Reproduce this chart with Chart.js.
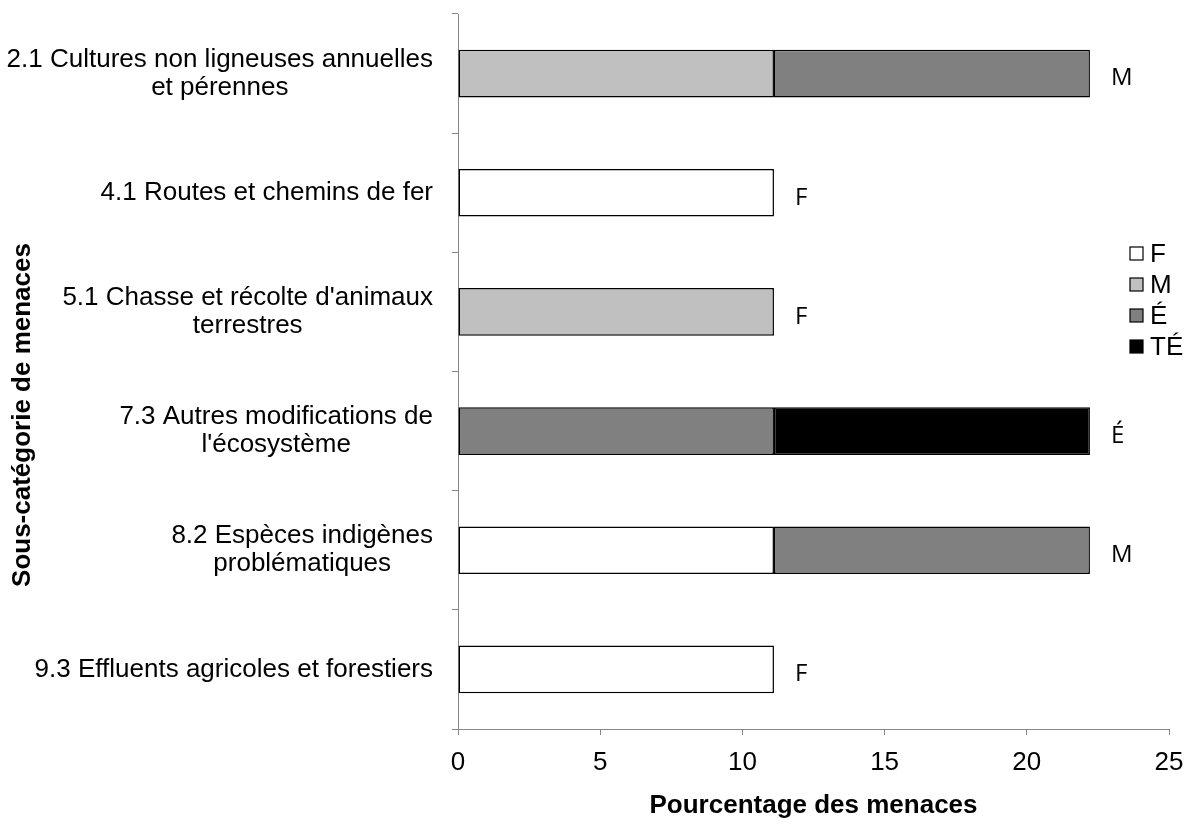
<!DOCTYPE html>
<html lang="fr">
<head>
<meta charset="utf-8">
<title>Sous-catégorie de menaces</title>
<script src="https://cdn.jsdelivr.net/npm/chart.js@4.4.1/dist/chart.umd.min.js"></script>
<style>
  html, body { margin:0; padding:0; background:#fff; }
  #wrap { width:1186px; height:826px; position:relative; }
</style>
</head>
<body>
<div id="wrap"><canvas id="chart"></canvas></div>
<script>
/* ====== données ====== */
const categories = [
  ['2.1 Cultures non ligneuses annuelles', 'et pérennes'],
  ['4.1 Routes et chemins de fer'],
  ["5.1 Chasse et récolte d'animaux", 'terrestres'],
  ['7.3 Autres modifications de', "l'écosystème"],
  ['8.2 Espèces indigènes', 'problématiques'],
  ['9.3 Effluents agricoles et forestiers']
];
const seriesNames = ['F', 'M', 'É', 'TÉ'];
const valuesF  = [null, 11.11, null, null, 11.11, 11.11];
const valuesM  = [11.11, null, 11.11, null, null, null];
const valuesE  = [11.11, null, null, 11.11, 11.11, null];
const valuesTE = [null, null, null, 11.11, null, null];
const overallImpact = ['M', 'F', 'F', 'É', 'M', 'F'];
const xMin = 0, xMax = 25, xStep = 5;
const yTitle = 'Sous-catégorie de menaces';
const xTitle = 'Pourcentage des menaces';

/* ====== styles ====== */
const FONT = '"Liberation Sans", Arial, sans-serif';
const AXIS_GREY = '#868686';
const fills = ['#ffffff', '#c0c0c0', '#808080', '#000000'];

/* libellés de catégories : bloc aligné à droite, lignes centrées */
const catLabels = {
  id: 'catLabels',
  afterDraw(chart) {
    const y = chart.scales.y, ctx = chart.ctx;
    ctx.save();
    ctx.font = '26px ' + FONT;
    ctx.fillStyle = '#000';
    ctx.textAlign = 'center';
    ctx.textBaseline = 'middle';
    const right = chart.chartArea.left - 25;
    const lh = 28;
    categories.forEach((lines, i) => {
      const cy = y.getPixelForValue(i);
      const w = Math.max(...lines.map(l => ctx.measureText(l).width));
      const cx = right - w / 2;
      lines.forEach((l, j) => ctx.fillText(l, cx, cy + (j - (lines.length - 1) / 2) * lh));
    });
    // titre vertical, centré sur la hauteur de la figure (comme Excel)
    ctx.font = 'bold 26px ' + FONT;
    ctx.translate(23, chart.height / 2 + 2);
    ctx.rotate(-Math.PI / 2);
    ctx.fillText(yTitle, 0, 0);
    ctx.restore();
  }
};

/* étiquette d'impact global au bout de chaque barre */
const endLabels = {
  id: 'endLabels',
  afterDatasetsDraw(chart) {
    const x = chart.scales.x, y = chart.scales.y, ctx = chart.ctx;
    ctx.save();
    ctx.font = '24px "Open Sans", sans-serif';
    ctx.fillStyle = '#000';
    ctx.textAlign = 'left';
    ctx.textBaseline = 'middle';
    overallImpact.forEach((txt, i) => {
      const total = chart.data.datasets.reduce((s, d) => s + (d.data[i] || 0), 0);
      ctx.fillText(txt, x.getPixelForValue(total) + 21, y.getPixelForValue(i) + 5);
    });
    ctx.restore();
  }
};

/* légende à droite, par-dessus la zone du graphique */
const sideLegend = {
  id: 'sideLegend',
  afterDraw(chart) {
    const ctx = chart.ctx;
    ctx.save();
    ctx.font = '26px ' + FONT;
    ctx.textBaseline = 'middle';
    ctx.textAlign = 'left';
    chart.data.datasets.forEach((ds, i) => {
      const cy = 254 + i * 31;
      ctx.fillStyle = ds.backgroundColor;
      ctx.fillRect(1130, cy - 7, 13, 13);
      ctx.strokeStyle = '#000';
      ctx.lineWidth = 1.2;
      ctx.strokeRect(1130, cy - 7, 13, 13);
      ctx.fillStyle = '#000';
      ctx.fillText(ds.label, 1150, cy + 1);
    });
    ctx.restore();
  }
};

const seriesValues = [valuesF, valuesM, valuesE, valuesTE];

new Chart(document.getElementById('chart').getContext('2d'), {
  type: 'bar',
  data: {
    labels: categories.map(c => c.join(' ')),
    datasets: seriesNames.map((name, i) => ({
      label: name,
      data: seriesValues[i],
      backgroundColor: fills[i],
      borderColor: '#000',
      borderWidth: 1.5,
      borderSkipped: false,
      barPercentage: 0.4,
      categoryPercentage: 1
    }))
  },
  options: {
    indexAxis: 'y',
    responsive: true,
    maintainAspectRatio: false,
    animation: false,
    layout: { padding: { top: 14, right: 17, left: 0, bottom: 0 } },
    scales: {
      x: {
        stacked: true, min: xMin, max: xMax,
        border: { color: AXIS_GREY, width: 1 },
        grid: { display: true, drawOnChartArea: false, drawTicks: true, tickLength: 6, color: AXIS_GREY },
        ticks: { stepSize: xStep, color: '#000', padding: 12, font: { family: FONT, size: 26 } },
        title: { display: true, text: xTitle, color: '#000',
                 font: { family: FONT, size: 26, weight: 'bold' }, padding: { top: 0, bottom: 5 } },
        afterFit: s => { s.height = 97; s.paddingLeft = 0; s.paddingRight = 0; }
      },
      y: {
        stacked: true,
        border: { color: AXIS_GREY, width: 1 },
        grid: { display: true, offset: true, drawOnChartArea: false, drawTicks: true, tickLength: 6, color: AXIS_GREY },
        ticks: { display: false },
        title: { display: false },
        afterFit: s => { s.width = 458; s.paddingTop = 0; s.paddingBottom = 0; }
      }
    },
    plugins: {
      legend: { display: false },
      tooltip: { enabled: false }
    }
  },
  plugins: [catLabels, endLabels, sideLegend]
});
</script>
</body>
</html>
